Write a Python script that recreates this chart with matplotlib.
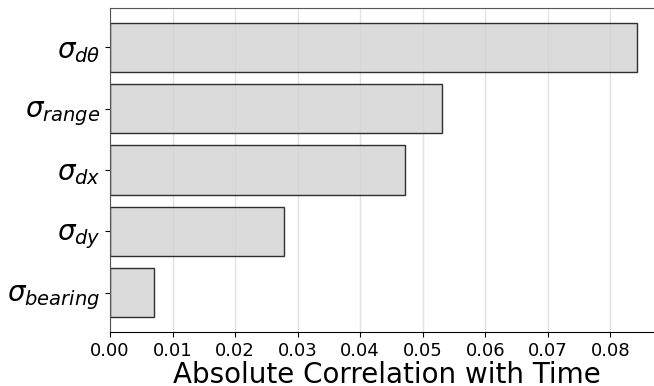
import matplotlib
matplotlib.use('Agg')
import matplotlib.pyplot as plt

# Feature names (mathtext) and their absolute correlation with time
features = [r'$\sigma_{bearing}$', r'$\sigma_{dy}$', r'$\sigma_{dx}$',
            r'$\sigma_{range}$', r'$\sigma_{d\theta}$']
corr = [0.0071, 0.0278, 0.0471, 0.0531, 0.0842]
xticks = [0.00, 0.01, 0.02, 0.03, 0.04, 0.05, 0.06, 0.07, 0.08]

fig = plt.figure(figsize=(6.54, 3.86), dpi=100)
ax = fig.add_axes([110 / 654, 54 / 386, 553 / 654, 324 / 386])

ax.grid(axis='x', color='#e3e3e3', linewidth=1.0, zorder=0)
ax.barh(range(len(features)), corr, height=0.8, color='lightgray',
        edgecolor='black', linewidth=1.0, alpha=0.8, zorder=2)

ax.set_yticks(range(len(features)))
ax.set_yticklabels(features, fontsize=20)
ax.set_xticks(xticks)
ax.set_xticklabels(['%.2f' % t for t in xticks], fontsize=13)
ax.set_xlim(0, 0.0884)
ax.set_xlabel('Absolute Correlation with Time', fontsize=20, labelpad=1)

for s in ['top', 'left', 'right']:
    ax.spines[s].set_color('#555555')
ax.spines['bottom'].set_color('black')

fig.savefig('out.png', dpi=100)
